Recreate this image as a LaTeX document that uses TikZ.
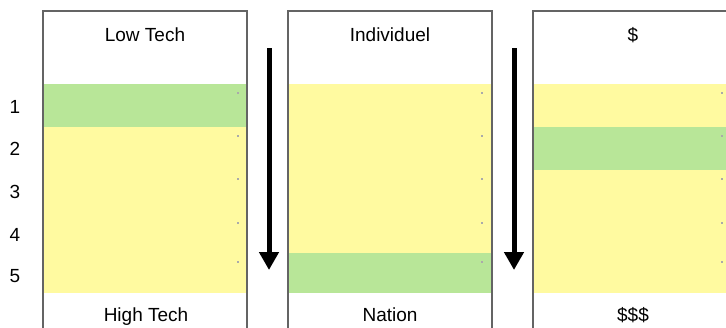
\documentclass[tikz,border=0pt]{standalone}
\usepackage{fontspec}
\setmainfont{Liberation Sans}
\usetikzlibrary{arrows.meta}
\definecolor{bandgreen}{RGB}{184,230,152}
\definecolor{bandyellow}{RGB}{255,250,160}
\definecolor{boxline}{RGB}{100,100,100}
\definecolor{dotgray}{RGB}{170,170,170}
\tikzset{
  band/.style={rectangle, inner sep=0pt, outer sep=0pt, draw=none, anchor=north west, minimum width=204pt},
  boxborder/.style={draw=boxline, line width=1.4pt},
  lbl/.style={inner sep=0pt, anchor=base, font=\fontsize{19}{22}\selectfont},
  bigarrow/.style={line width=5pt, -{Triangle[width=19pt,length=18pt]}},
  tinydot/.style={fill=dotgray, draw=none}
}
\begin{document}
\begin{tikzpicture}[x=1pt,y=-1pt]
\useasboundingbox (0,0) rectangle (726,327);
% column 1 bands
\node[band, fill=bandgreen, minimum height=43pt] (c1g) at (43,84) {};
\node[band, fill=bandyellow, minimum height=166pt] (c1y) at (43,127) {};
% column 2 bands
\node[band, fill=bandyellow, minimum height=169pt] (c2y) at (288,84) {};
\node[band, fill=bandgreen, minimum height=40pt] (c2g) at (288,253) {};
% column 3 bands
\node[band, fill=bandyellow, minimum height=43pt] (c3ya) at (533,84) {};
\node[band, fill=bandgreen, minimum height=43pt] (c3g) at (533,127) {};
\node[band, fill=bandyellow, minimum height=123pt] (c3yb) at (533,170) {};
% tiny dots
\foreach \xx in {238,482,722}{
  \foreach \yy in {93,136,179,223,262}{
    \fill[tinydot] (\xx-0.6,\yy-0.6) rectangle (\xx+0.6,\yy+0.6);
  }
}
% box borders
\draw[boxborder] (43,335) -- (43,11) -- (247,11) -- (247,335);
\draw[boxborder] (288,335) -- (288,11) -- (492,11) -- (492,335);
\draw[boxborder] (533,335) -- (533,11) -- (740,11);
% labels
\node[lbl] (lowtech) at (145,41) {Low Tech};
\node[lbl] (indiv) at (390,41) {Individuel};
\node[lbl] (dollar) at (633,41) {\$};
\node[lbl] (hightech) at (146,321.5) {High Tech};
\node[lbl] (nation) at (390,321.5) {Nation};
\node[lbl] (dollars) at (633,321.5) {\$\$\$};
% row numbers
\node[lbl] (n1) at (15,113.5) {1};
\node[lbl] (n2) at (15,155.5) {2};
\node[lbl] (n3) at (15,198.5) {3};
\node[lbl] (n4) at (15,241.5) {4};
\node[lbl] (n5) at (15,282.5) {5};
% arrows
\coordinate (a1s) at (269,48);
\coordinate (a1e) at (269,270);
\coordinate (a2s) at (514,48);
\coordinate (a2e) at (514,270);
\draw[bigarrow] (a1s) -- (a1e);
\draw[bigarrow] (a2s) -- (a2e);
\end{tikzpicture}
\end{document}
